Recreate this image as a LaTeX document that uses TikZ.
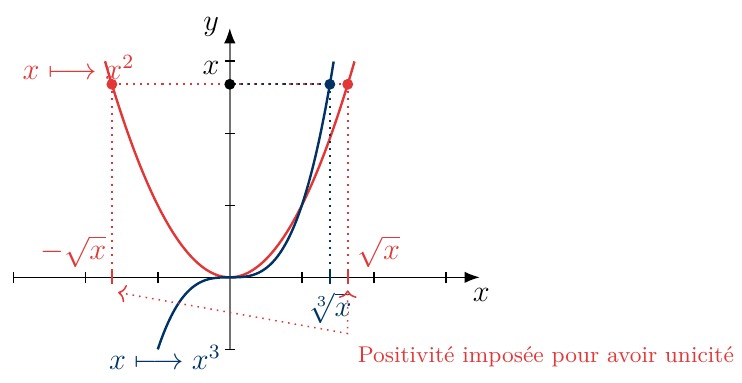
\documentclass[tikz,border=0pt]{standalone}
\usetikzlibrary{positioning,arrows.meta}
\definecolor{carmin}{RGB}{225,55,55}
\definecolor{marine}{RGB}{0,50,100}
\def\X{2.68}

\begin{document}
\begin{tikzpicture}[
  every node/.style={font=\large},
  axe/.style={semithick,-{Latex[black,length=6pt,width=4.5pt]}},
  graduation/.style={semithick},
  courbe/.style={line width=0.95pt,smooth,samples=60},
  repere/.style={thick,dotted},
  fleche/.style={semithick,dotted,{Computer Modern Rightarrow[length=3pt,width=7pt]}-{Computer Modern Rightarrow[length=3pt,width=7pt]}},
  point/.style={circle,fill,inner sep=0pt,minimum size=4.3pt}
]
  \useasboundingbox (-3.19,-1.46) rectangle (7.11,3.85);
  % axes
  \draw[axe] (-3,0) -- (3.47,0);
  \draw[axe,black!55] (0,-1) -- (0,3.46);
  \foreach \k in {-3,-2,-1,1,2,3}
    \draw[graduation] (\k,-0.08) -- (\k,0.08);
  \foreach \k in {-1,1,2,3}
    \draw[graduation] (-0.07,\k) -- (0.07,\k);
  \node (ylab) at (-0.26,3.47) {$y$};
  \node (xlab) at (3.49,-0.25) {$x$};
  \node (xval) at (-0.26,2.90) {$x$};
  % courbes
  \draw[courbe,carmin,domain=-1.732:1.732] plot (\x,{\x*\x});
  \draw[courbe,marine,domain=-1:1.442] plot (\x,{\x*\x*\x});
  % points
  \coordinate (img) at (0,\X);
  \coordinate (ptgauche) at ({-sqrt(\X)},\X);
  \coordinate (ptdroit) at ({sqrt(\X)},\X);
  \coordinate (ptcube) at ({\X^(1/3)},\X);
  \coordinate (pdgauche) at ({-sqrt(\X)},0);
  \coordinate (pddroit) at ({sqrt(\X)},0);
  \coordinate (pdcube) at ({\X^(1/3)},0);
  \draw[repere,carmin] (ptgauche) -- (ptdroit);
  \draw[repere,marine,dash phase=1.2pt] (img) -- (ptcube);
  \draw[repere,carmin] (ptgauche) -- (pdgauche);
  \draw[repere,carmin] (ptdroit) -- (pddroit);
  \draw[repere,marine] (ptcube) -- (pdcube);
  \draw[thick,carmin] ([yshift=-0.09cm]pdgauche) -- ([yshift=0.09cm]pdgauche);
  \draw[thick,carmin] ([yshift=-0.09cm]pddroit) -- ([yshift=0.09cm]pddroit);
  \draw[thick,marine] ([yshift=-0.09cm]pdcube) -- ([yshift=0.09cm]pdcube);
  \node[point,black] at (img) {};
  \node[point,carmin] at (ptgauche) {};
  \node[point,carmin] at (ptdroit) {};
  \node[point,marine] at (ptcube) {};
  % etiquettes
  \node[carmin] (carre) at (-2.10,2.92) {$x\longmapsto x^2$};
  \node[marine] (cube) at (-0.90,-1.11) {$x\longmapsto x^3$};
  \node[carmin] (moinsrac) at (-2.17,0.36) {$-\sqrt{x}$};
  \node[carmin] (rac) at (2.07,0.36) {$\sqrt{x}$};
  \node[marine] (raccube) at (1.39,-0.43) {$\sqrt[3]{x}$};
  % positivite
  \coordinate (flechehaut) at ({sqrt(\X)},-0.18);
  \coordinate (coin) at ({sqrt(\X)},-0.78);
  \coordinate (flechegauche) at (-1.55,-0.21);
  \draw[fleche,carmin] (flechegauche) -- (coin) -- (flechehaut);
  \node[carmin,font=\fontsize{9}{10}\selectfont,anchor=west,inner sep=0pt] (texte) at (1.77,-1.10) {Positivité imposée pour avoir unicité};
\end{tikzpicture}
\end{document}
